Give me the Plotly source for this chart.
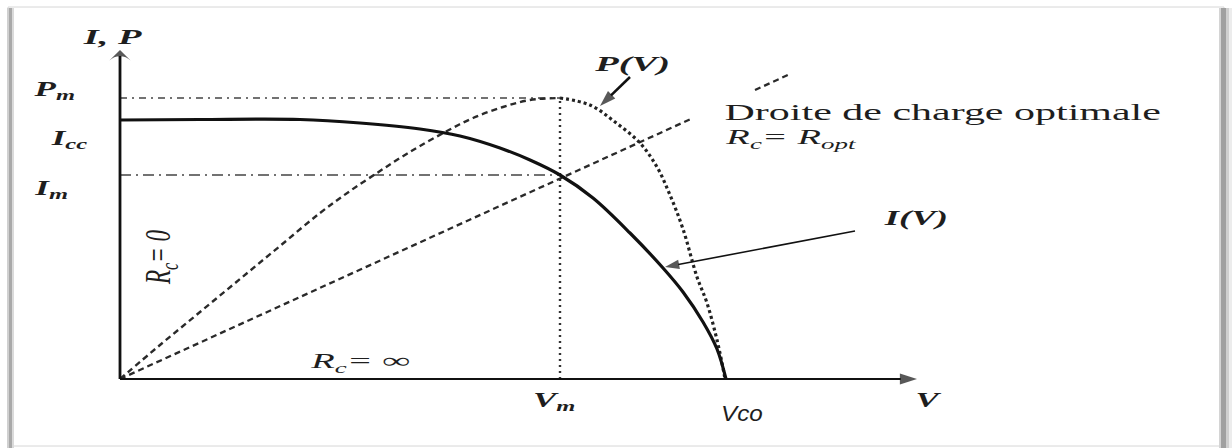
import json
import plotly.graph_objects as go

# ---- characteristic points of the cell (arbitrary units) ----
Vm, Im, Pm, Icc, Vco = 4.40, 2.04, 2.81, 2.59, 6.06
V_AXIS_END, I_AXIS_END = 7.97, 3.29

# I(V) characteristic
V_iv = [0.0, 0.8, 1.8, 2.4, 3.0, 3.4, 3.8, 4.1, 4.4, 4.73, 5.1, 5.43, 5.63, 5.83, 5.97, 6.06]
I_iv = [2.59, 2.595, 2.595, 2.56, 2.50, 2.43, 2.31, 2.19, 2.04, 1.81, 1.46, 1.11, 0.87, 0.57, 0.30, 0.0]

# P(V) characteristic: rising branch up to the maximum, then falling branch
V_p_up = [0.0, 0.4, 0.8, 1.2, 1.6, 2.0, 2.3, 2.6, 2.8, 3.0, 3.27, 3.53, 3.83, 4.1, 4.4]
P_p_up = [0.0, 0.34, 0.67, 1.00, 1.33, 1.66, 1.88, 2.08, 2.21, 2.33, 2.48, 2.61, 2.72, 2.79, 2.81]
V_p_down = [4.4, 4.70, 4.95, 5.20, 5.37, 5.50, 5.63, 5.77, 5.87, 5.97, 6.02, 6.05]
P_p_down = [2.81, 2.74, 2.57, 2.36, 2.12, 1.84, 1.50, 1.02, 0.76, 0.39, 0.16, 0.0]

# optimal load line (interrupted behind its caption)
V_load = [0.0, 5.73, None, 6.35, 6.70]
I_load = [0.0, 2.61, None, 2.89, 3.05]

# pointer arrows: tail -> head
PV_PTR = ([5.10, 4.80], [3.02, 2.73])
IV_PTR = ([7.35, 5.45], [1.48, 1.12])

W, H = 1232, 448
X_RANGE = [-1.20, 11.12]
Y_RANGE = [-0.69, 3.79]

INK = "#1e1e1e"
SERIF = "Liberation Serif, Times New Roman, serif"
SANS = "Liberation Sans, Arial, sans-serif"

fig = go.Figure()


def line(x, y, color, width, dash="solid", shape="linear"):
    fig.add_trace(go.Scatter(x=x, y=y, mode="lines", line_shape=shape, connectgaps=False,
                             line=dict(color=color, width=width, dash=dash),
                             hoverinfo="skip"))


def arrow(x, y, width, head, symbol="arrow"):
    fig.add_trace(go.Scatter(x=x, y=y, mode="lines+markers",
                             line=dict(color="#111", width=width),
                             marker=dict(symbol=symbol, angleref="previous",
                                         size=[0] * (len(x) - 1) + [head], color="#111",
                                         line=dict(width=0)),
                             hoverinfo="skip"))


# reference lines for the maximum power point
line([0, Vm], [Pm, Pm], "#444", 1.4, "7px,5px,2px,5px")
line([0, Vm], [Im, Im], "#444", 1.5, "11px,5px,2px,5px")
line([Vm, Vm], [0, Pm], "#333", 2.4, "2px,4px")

# load line
line(V_load, I_load, "#2a2a2a", 2.3, "6px,4px")

# P(V)
line(V_p_up, P_p_up, "#2a2a2a", 2.4, "6px,4px", "spline")
line(V_p_down, P_p_down, "#222", 3.2, "3px,3px", "spline")

# I(V)
line(V_iv, I_iv, "#111", 3.2, shape="spline")

# axes drawn as arrows
arrow([0, V_AXIS_END], [0, 0], 2.2, 18)
arrow([0, 0], [0, I_AXIS_END], 2.8, 15, "arrow-wide")

# pointers to the curves
arrow(*PV_PTR, 2.6, 17)
arrow(*IV_PTR, 1.6, 15)

annotations = []


def label(text, x, y, size=20, family=SERIF, style="italic", weight="bold",
          xshift=0, yshift=0, angle=0):
    annotations.append(dict(text=text, x=x, y=y, xref="x", yref="y", showarrow=False,
                            xanchor="center", yanchor="middle", textangle=angle,
                            xshift=xshift, yshift=yshift,
                            font=dict(family=family, size=size, color=INK,
                                      style=style, weight=weight)))


label("I, P", -0.08, 3.43, size=22)
label("P<sub>m</sub>", -0.66, Pm, yshift=8)
label("I<sub>cc</sub>", -0.51, Icc, yshift=-19)
label("I<sub>m</sub>", -0.69, Im, yshift=-14)
label("V<sub>m</sub>", Vm, 0, xshift=-6, yshift=-22)
label("Vco", Vco, 0, family=SANS, weight="normal", size=22, xshift=16, yshift=-34)
label("V", 8.08, 0, yshift=-21)
label("P(V)", 5.12, 3.16, size=22)
label("I(V)", 7.95, 1.61, size=21)
label("Droite de charge optimale", 8.22, 2.67, size=24, style="normal", weight="normal")
label("R<sub>c</sub>= R<sub>opt</sub>", 6.70, 2.41, size=22, weight="normal")
label("R<sub>c</sub>= ∞", 2.40, 0.17, size=22, weight="normal")
label("R<sub>c</sub>= 0", 0.41, 1.21, size=23, weight="normal", angle=-90)


def px(x):
    return x / W


def py(y):
    return 1 - y / H


# picture frame with a soft grey edge on the sides
shapes = [
    dict(type="rect", xref="paper", yref="paper", x0=px(8), x1=px(1224), y0=py(446), y1=py(7),
         line=dict(color="#d6d6d6", width=1), fillcolor="rgba(0,0,0,0)", layer="below"),
]
for x0, x1, c in [(7, 9, "#d0d0d0"), (9, 12, "#a9a9a9"), (12, 14, "#dadada"),
                  (1219, 1221, "#d4d4d4"), (1221, 1226, "#a0a0a0"), (1226, 1229, "#cfcfcf"),
                  (1229, 1232, "#ececec")]:
    shapes.append(dict(type="rect", xref="paper", yref="paper", x0=px(x0), x1=px(x1),
                       y0=py(448), y1=py(8), line=dict(width=0), fillcolor=c, layer="below"))

fig.update_layout(
    width=W, height=H,
    margin=dict(l=0, r=0, t=0, b=0),
    paper_bgcolor="white", plot_bgcolor="white",
    showlegend=False,
    xaxis=dict(range=X_RANGE, visible=False, fixedrange=True),
    yaxis=dict(range=Y_RANGE, visible=False, fixedrange=True),
    annotations=annotations,
    shapes=shapes,
)

# wide lettering: stretch the captions horizontally (rotated one across its height)
stretch = {"R<sub>c</sub>= 0": [1.0, 1.6], "Vco": [1.1, 1.0]}
post = """
var STRETCH = %s;
document.querySelectorAll('.annotation-text').forEach(function (t) {
  var raw = t.getAttribute('data-unformatted') || t.textContent;
  if (!raw) { return; }
  var s = STRETCH[raw] || [1.75, 1.0];
  t.style.transformBox = 'fill-box';
  t.style.transformOrigin = 'center';
  t.style.transform = 'scale(' + s[0] + ',' + s[1] + ')';
});
""" % json.dumps(stretch)

fig.write_html("out.html", post_script=post, config={"staticPlot": True})
